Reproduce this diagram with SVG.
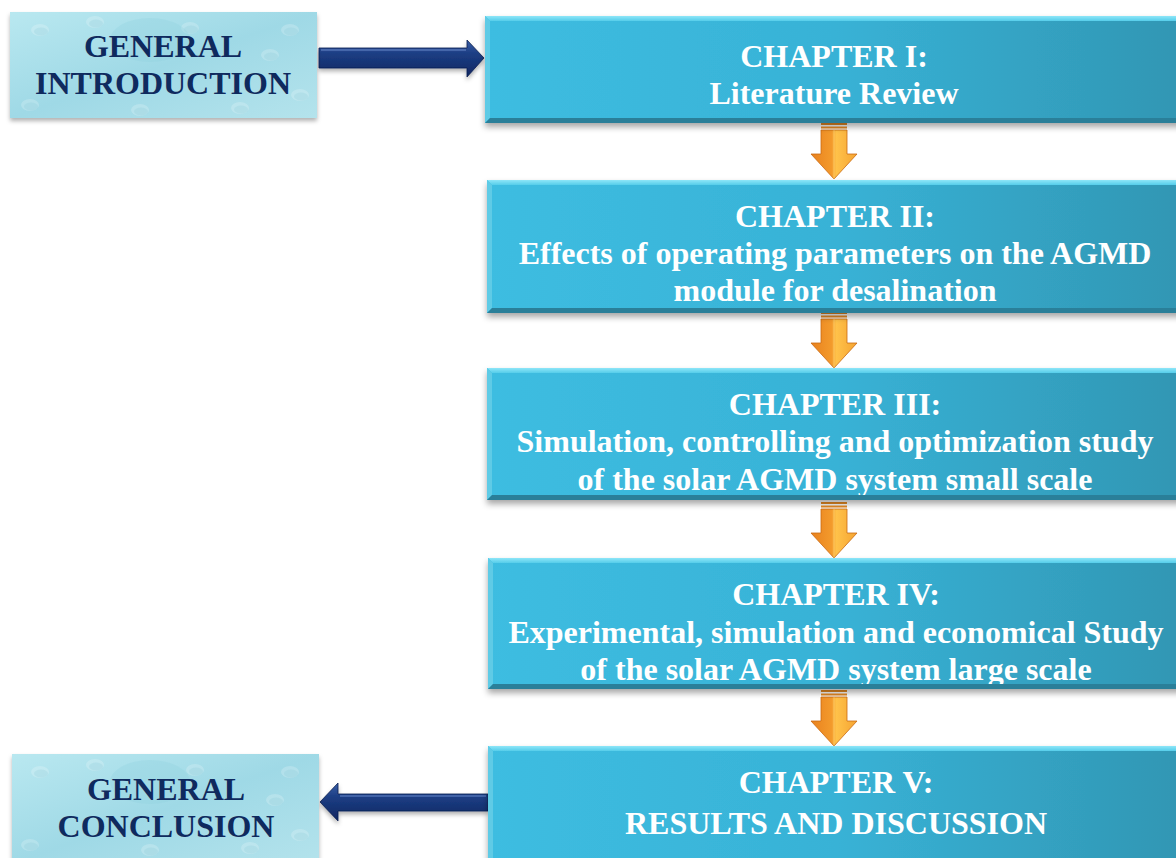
<svg xmlns="http://www.w3.org/2000/svg" width="1176" height="858" viewBox="0 0 1176 858">
<style>
.ch{font-family:"Liberation Serif","Times New Roman",serif;font-weight:bold;font-size:32px;fill:#ffffff;text-anchor:middle}
.gn{font-family:"Liberation Serif","Times New Roman",serif;font-weight:bold;font-size:32px;fill:#0f2a5e;text-anchor:middle}
</style>
<defs>
<linearGradient id="boxg" x1="0" y1="0" x2="1" y2="0">
<stop offset="0" stop-color="#3dbde1"/><stop offset="0.5" stop-color="#38b2d6"/><stop offset="1" stop-color="#3196b3"/>
</linearGradient>
<linearGradient id="topb" x1="0" y1="0" x2="0" y2="1">
<stop offset="0" stop-color="#8ee6f8"/><stop offset="1" stop-color="#55cdea"/>
</linearGradient>
<linearGradient id="water" x1="0" y1="0" x2="1" y2="1">
<stop offset="0" stop-color="#b9e8f0"/><stop offset="0.5" stop-color="#9fd9e6"/><stop offset="1" stop-color="#b4e3ec"/>
</linearGradient>
<linearGradient id="navy" x1="0" y1="0" x2="0" y2="1">
<stop offset="0" stop-color="#3a5fa8"/><stop offset="0.35" stop-color="#1d3f85"/><stop offset="1" stop-color="#0f2560"/>
</linearGradient>
<linearGradient id="orange" x1="0" y1="0" x2="1" y2="0">
<stop offset="0" stop-color="#e9821f"/><stop offset="0.45" stop-color="#f39a2c"/><stop offset="0.55" stop-color="#ffc24a"/><stop offset="1" stop-color="#f5a431"/>
</linearGradient>
<filter id="sh" x="-5%" y="-10%" width="110%" height="130%">
<feDropShadow dx="0" dy="4" stdDeviation="3" flood-color="#000" flood-opacity="0.35"/>
</filter>
<filter id="sh2" x="-10%" y="-20%" width="120%" height="160%">
<feDropShadow dx="0" dy="3" stdDeviation="2" flood-color="#000" flood-opacity="0.3"/>
</filter>
<g id="blob">
<ellipse cx="0" cy="0" rx="9" ry="6" fill="#ffffff" opacity="0.2"/>
<ellipse cx="1" cy="1.5" rx="7" ry="4" fill="#7cc3d3" opacity="0.2"/>
</g>
<g id="orangeArrow">
<rect x="-13" y="0" width="26" height="2" fill="#e58a25"/>
<rect x="-13" y="3.5" width="26" height="2" fill="#e58a25"/>
<path d="M-13,7 H13 V31 H23 L0,56 L-23,31 H-13 Z" fill="url(#orange)" stroke="#c96a12" stroke-width="0.8"/>
<path d="M0,7 V56" stroke="#ffd77a" stroke-width="1" opacity="0.6"/>
</g>
<clipPath id="c1"><rect x="10" y="12" width="307" height="106"/></clipPath>
<clipPath id="c2"><rect x="12" y="754" width="307" height="104"/></clipPath>
</defs>

<g id="connectors">
<g filter="url(#sh2)">
<path d="M319,48 H467 V40 L484,58 L467,77 V68 H319 Z" fill="url(#navy)" stroke="#0c1f50" stroke-width="0.8"/>
<path d="M321,50 H466" stroke="#6f8fd0" stroke-width="1.5" opacity="0.6"/>
</g>
<g filter="url(#sh2)">
<path d="M488,794 H338 V783 L320,802 L338,821 V811 H488 Z" fill="url(#navy)" stroke="#0c1f50" stroke-width="0.8"/>
<path d="M340,796 H486" stroke="#6f8fd0" stroke-width="1.5" opacity="0.6"/>
</g>
<use href="#orangeArrow" x="834" y="123"/>
<use href="#orangeArrow" x="834" y="312"/>
<use href="#orangeArrow" x="834" y="502"/>
<use href="#orangeArrow" x="834" y="690"/>
</g>

<g id="intro">
<rect x="10" y="12" width="307" height="106" fill="url(#water)" filter="url(#sh2)"/>
<g clip-path="url(#c1)">
<use href="#blob" x="40" y="30"/><use href="#blob" x="95" y="22"/><use href="#blob" x="290" y="30"/>
<use href="#blob" x="270" y="55"/><use href="#blob" x="30" y="105"/><use href="#blob" x="140" y="110"/>
<use href="#blob" x="240" y="108"/><use href="#blob" x="300" y="95"/><use href="#blob" x="190" y="28"/>
<ellipse cx="150" cy="40" rx="40" ry="22" fill="#8fd0de" opacity="0.3"/>
</g>
<text class="gn" x="163" y="57">GENERAL</text>
<text class="gn" x="163" y="94">INTRODUCTION</text>
</g>

<g id="conclusion">
<rect x="12" y="754" width="307" height="110" fill="url(#water)" filter="url(#sh2)"/>
<g clip-path="url(#c2)">
<use href="#blob" x="40" y="772"/><use href="#blob" x="95" y="765"/><use href="#blob" x="290" y="772"/>
<use href="#blob" x="275" y="800"/><use href="#blob" x="30" y="845"/><use href="#blob" x="150" y="850"/>
<use href="#blob" x="250" y="848"/><use href="#blob" x="300" y="835"/><use href="#blob" x="195" y="770"/>
<ellipse cx="150" cy="782" rx="40" ry="22" fill="#8fd0de" opacity="0.3"/>
</g>
<text class="gn" x="166" y="800">GENERAL</text>
<text class="gn" x="166" y="837">CONCLUSION</text>
</g>

<g id="ch1">
<g filter="url(#sh)">
<rect x="485" y="16" width="700" height="107" fill="url(#boxg)"/>
<path d="M485,16 H1185 L1180,21 H490 Z" fill="url(#topb)"/>
<path d="M485,16 L490,21 V118 L485,123 Z" fill="#5fcbe6"/>
<path d="M485,123 L490,118 H1180 L1185,123 Z" fill="#2a7f99"/>
</g>
<text class="ch" x="834" y="67">CHAPTER I:</text>
<text class="ch" x="834" y="104">Literature Review</text>
</g>

<g id="ch2">
<g filter="url(#sh)">
<rect x="487" y="180" width="700" height="133" fill="url(#boxg)"/>
<path d="M487,180 H1187 L1182,185 H492 Z" fill="url(#topb)"/>
<path d="M487,180 L492,185 V308 L487,313 Z" fill="#5fcbe6"/>
<path d="M487,313 L492,308 H1182 L1187,313 Z" fill="#2a7f99"/>
</g>
<text class="ch" x="835" y="227">CHAPTER II:</text>
<text class="ch" x="835" y="264">Effects of operating parameters on the AGMD</text>
<text class="ch" x="835" y="301">module for desalination</text>
</g>

<g id="ch3">
<g filter="url(#sh)">
<rect x="487" y="368" width="700" height="132" fill="url(#boxg)"/>
<path d="M487,368 H1187 L1182,373 H492 Z" fill="url(#topb)"/>
<path d="M487,368 L492,373 V495 L487,500 Z" fill="#5fcbe6"/>
</g>
<text class="ch" x="835" y="415">CHAPTER III:</text>
<text class="ch" x="835" y="452">Simulation, controlling and optimization study</text>
<text class="ch" x="835" y="490">of the solar AGMD system small scale</text>
<path d="M487,500 L492,495 H1182 L1187,500 Z" fill="#2a7f99"/>
</g>

<g id="ch4">
<g filter="url(#sh)">
<rect x="488" y="558" width="700" height="131" fill="url(#boxg)"/>
<path d="M488,558 H1188 L1183,563 H493 Z" fill="url(#topb)"/>
<path d="M488,558 L493,563 V684 L488,689 Z" fill="#5fcbe6"/>
</g>
<text class="ch" x="836" y="605">CHAPTER IV:</text>
<text class="ch" x="836" y="643">Experimental, simulation and economical Study</text>
<text class="ch" x="836" y="680">of the solar AGMD system large scale</text>
<path d="M488,689 L493,684 H1183 L1188,689 Z" fill="#2a7f99"/>
</g>

<g id="ch5">
<g filter="url(#sh)">
<rect x="488" y="746" width="700" height="130" fill="url(#boxg)"/>
<path d="M488,746 H1188 L1183,751 H493 Z" fill="url(#topb)"/>
<path d="M488,746 L493,751 V870 L488,875 Z" fill="#5fcbe6"/>
</g>
<text class="ch" x="836" y="793">CHAPTER V:</text>
<text class="ch" x="836" y="834">RESULTS AND DISCUSSION</text>
</g>
</svg>
